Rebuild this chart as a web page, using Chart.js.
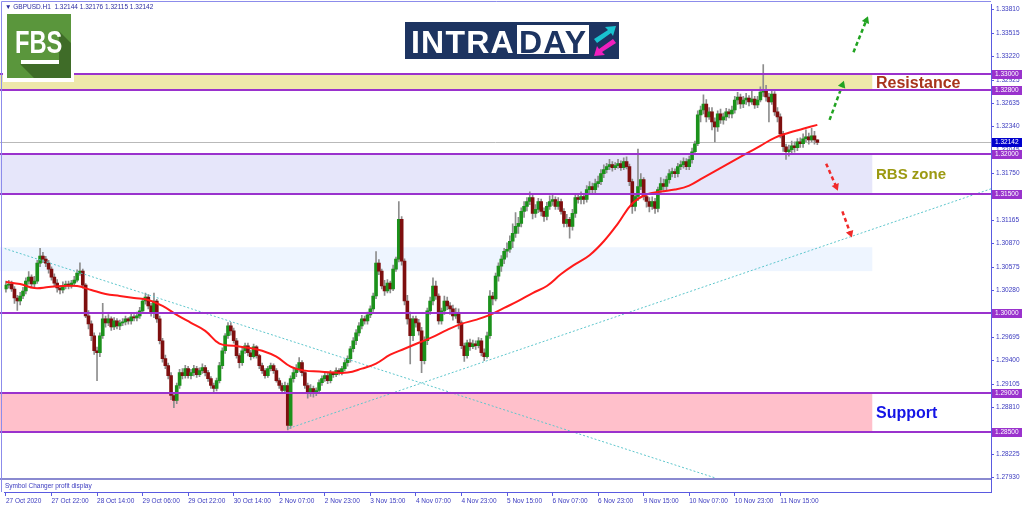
<!DOCTYPE html>
<html>
<head>
<meta charset="utf-8">
<script src="https://cdn.jsdelivr.net/npm/chart.js@4.4.0/dist/chart.umd.min.js"></script>
<style>
  html, body { margin: 0; padding: 0; background: #fff; overflow: hidden; }
  #wrap { position: relative; width: 1024px; height: 511px; }
  #wrap canvas { position: absolute; left: 0; top: 0; }
  .abs { position: absolute; }
  .hdr { left: 5px; top: 3px; font: 6.5px 'Liberation Sans', Arial, sans-serif; color: #2b2ba0; white-space: pre; }
  #fbsFrame { left: 3px; top: 12px; width: 71px; height: 70px; background: #fff; }
  #fbsBox { left: 7px; top: 14px; width: 64px; height: 64px; background: #5a963c; overflow: hidden; }
  #fbsShadow { left: 0; top: 0; width: 64px; height: 64px; background: #3f6c28;
    clip-path: polygon(52px 17px, 64px 29px, 64px 64px, 27px 64px, 13px 50px, 52px 50px); }
  #fbsText { left: 6px; top: 12px; width: 52px; font: bold 32px 'Liberation Sans Narrow', 'Liberation Sans', Arial, sans-serif;
    color: #fff; line-height: 32px; transform: scaleX(0.74); transform-origin: 7.7px 0; }
  #fbsBar { left: 14px; top: 46px; width: 38px; height: 4px; background: #fff; }
  #intra { left: 405px; top: 22px; width: 214px; height: 37px; background: #1d3461; }
  .intraTxt { font: bold 32px 'Liberation Sans', Arial, sans-serif; line-height: 32px; letter-spacing: 1.2px; }
  #dayBox { left: 112px; top: 3px; width: 72px; height: 29px; background: #fff; }
</style>
</head>
<body>
<div id="wrap">
  <canvas id="chart" width="1024" height="511"></canvas>
  <div class="abs hdr">&#9660; GBPUSD.H1  1.32144 1.32176 1.32115 1.32142</div>
  <div class="abs" id="fbsFrame"></div>
  <div class="abs" id="fbsBox">
    <div class="abs" id="fbsShadow"></div>
    <div class="abs" id="fbsText">FBS</div>
    <div class="abs" id="fbsBar"></div>
  </div>
  <div class="abs" id="intra">
    <div class="abs intraTxt" style="left:6px; top:4px; color:#fff;">INTRA</div>
    <div class="abs" id="dayBox"></div>
    <div class="abs intraTxt" style="left:114px; top:4px; color:#1d3461;">DAY</div>
    <svg class="abs" style="left:186px; top:2px;" width="28" height="34" viewBox="0 0 28 34">
      <polygon points="3,15 17,6 14,3 25,2 22,12 20,9 6,19" fill="#19c3d0"/>
      <polygon points="25,19 11,28 14,31 3,32 6,22 8,25 22,15" fill="#f01fbe"/>
    </svg>
  </div>
</div>
<script>
// GBPUSD H1 candles, one entry per bar
const opens = [
  1.3030, 1.3035, 1.30363, 1.3030, 1.30188, 1.3015, 1.30213, 1.30275, 1.3040, 1.3045,
  1.30363, 1.3040, 1.30625, 1.30713, 1.30675, 1.30625, 1.3055, 1.3045, 1.30375, 1.30313,
  1.30288, 1.30338, 1.30363, 1.30338, 1.30375, 1.30413, 1.3050, 1.30525, 1.3035, 1.29963,
  1.29863, 1.29713, 1.29525, 1.2950, 1.29713, 1.29925, 1.29875, 1.29925, 1.29825, 1.2990,
  1.29838, 1.29875, 1.29888, 1.29925, 1.2990, 1.2995, 1.29938, 1.29963, 1.30025, 1.3015,
  1.3020, 1.30088, 1.3000, 1.3015, 1.29925, 1.2965, 1.29425, 1.29338, 1.29213, 1.28963,
  1.2890, 1.29088, 1.2925, 1.29213, 1.2930, 1.29213, 1.2925, 1.2930, 1.29225, 1.29275,
  1.29313, 1.2925, 1.29175, 1.29088, 1.2905, 1.2915, 1.29338, 1.29525, 1.29713, 1.29838,
  1.29775, 1.2965, 1.29463, 1.29375, 1.29525, 1.29588, 1.2950, 1.2945, 1.29575, 1.29463,
  1.29338, 1.29275, 1.29213, 1.2930, 1.29338, 1.29275, 1.2915, 1.29088, 1.29025, 1.29088,
  1.28588, 1.29175, 1.2925, 1.2930, 1.29375, 1.2925, 1.29088, 1.2900, 1.2905, 1.2900,
  1.29025, 1.29125, 1.29175, 1.29213, 1.2915, 1.2925, 1.29225, 1.29275, 1.2925, 1.2930,
  1.29375, 1.29425, 1.2955, 1.2965, 1.2975, 1.29838, 1.29925, 1.2990, 1.29975, 1.3005,
  1.30213, 1.30625, 1.30525, 1.30338, 1.30275, 1.30375, 1.3030, 1.3055, 1.30675, 1.31175,
  1.3065, 1.3015, 1.29925, 1.29713, 1.29925, 1.29875, 1.29775, 1.2940, 1.2965, 1.30025,
  1.3015, 1.30338, 1.30213, 1.2990, 1.30025, 1.3015, 1.30088, 1.3005, 1.29963, 1.3000,
  1.29875, 1.29588, 1.29463, 1.29625, 1.29575, 1.29613, 1.29588, 1.2965, 1.2950, 1.2945,
  1.29713, 1.30213, 1.30175, 1.30463, 1.30588, 1.30675, 1.30775, 1.3080, 1.3090, 1.3100,
  1.31088, 1.31125, 1.31275, 1.31338, 1.3140, 1.3145, 1.3125, 1.3130, 1.3140, 1.31275,
  1.31213, 1.31338, 1.3140, 1.31425, 1.31338, 1.3140, 1.31275, 1.31125, 1.31175, 1.31088,
  1.3125, 1.3145, 1.31425, 1.31463, 1.31425, 1.3155, 1.31588, 1.3155, 1.31625, 1.3165,
  1.3175, 1.3180, 1.31838, 1.31863, 1.31825, 1.3185, 1.31875, 1.31825, 1.3190, 1.31838,
  1.3165, 1.31338, 1.31463, 1.31588, 1.31675, 1.31463, 1.3140, 1.31338, 1.3140, 1.31313,
  1.3155, 1.31625, 1.31588, 1.31675, 1.3175, 1.31775, 1.3175, 1.31838, 1.31863, 1.3190,
  1.31838, 1.31925, 1.32025, 1.32125, 1.32488, 1.3255, 1.32625, 1.32463, 1.32525, 1.3240,
  1.32338, 1.3250, 1.32425, 1.32463, 1.32525, 1.3250, 1.3255, 1.32675, 1.32713, 1.32625,
  1.32675, 1.3270, 1.3265, 1.32688, 1.32613, 1.32675, 1.32775, 1.3280, 1.32713, 1.3265,
  1.3275, 1.32525, 1.32463, 1.3225, 1.32088, 1.32025, 1.3205, 1.3210, 1.32075, 1.3215,
  1.32125, 1.32188, 1.32213, 1.32175, 1.32225, 1.32175
];
const highs = [
  1.3040, 1.3041, 1.3040, 1.3033, 1.3022, 1.3026, 1.3032, 1.3044, 1.3052, 1.3048,
  1.3046, 1.3066, 1.3081, 1.3076, 1.3071, 1.3066, 1.3058, 1.3049, 1.3042, 1.3034,
  1.3039, 1.3040, 1.3040, 1.3041, 1.3046, 1.3054, 1.3063, 1.3055, 1.3037, 1.3003,
  1.2990, 1.2975, 1.2957, 1.2975, 1.3012, 1.2996, 1.2998, 1.2995, 1.2994, 1.2993,
  1.2991, 1.2993, 1.2996, 1.2994, 1.2999, 1.2998, 1.3001, 1.3007, 1.3018, 1.3025,
  1.3023, 1.3012, 1.3025, 1.3017, 1.2996, 1.2968, 1.2947, 1.2937, 1.2925, 1.2900,
  1.2912, 1.2929, 1.2930, 1.2934, 1.2933, 1.2929, 1.2934, 1.2933, 1.2931, 1.2936,
  1.2934, 1.2928, 1.2920, 1.2912, 1.2918, 1.2938, 1.2956, 1.2974, 1.2988, 1.2988,
  1.2981, 1.2968, 1.2949, 1.2956, 1.2962, 1.2962, 1.2953, 1.2961, 1.2959, 1.2948,
  1.2937, 1.2930, 1.2933, 1.2937, 1.2936, 1.2930, 1.2918, 1.2912, 1.2913, 1.2912,
  1.2921, 1.2930, 1.2935, 1.2944, 1.2940, 1.2928, 1.2912, 1.2910, 1.2908, 1.2906,
  1.2916, 1.2921, 1.2925, 1.2925, 1.2928, 1.2926, 1.2931, 1.2930, 1.2933, 1.2941,
  1.2946, 1.2958, 1.2969, 1.2979, 1.2988, 1.2997, 1.2996, 1.3001, 1.3009, 1.3025,
  1.3077, 1.3067, 1.3055, 1.3041, 1.3042, 1.3040, 1.3060, 1.3070, 1.3140, 1.3121,
  1.3068, 1.3022, 1.3001, 1.2996, 1.2996, 1.2992, 1.2982, 1.2970, 1.3006, 1.3020,
  1.3044, 1.3040, 1.3024, 1.3006, 1.3021, 1.3020, 1.3013, 1.3010, 1.3006, 1.3005,
  1.2990, 1.2962, 1.2966, 1.2967, 1.2966, 1.2965, 1.2969, 1.2968, 1.2955, 1.2976,
  1.3028, 1.3026, 1.3050, 1.3063, 1.3072, 1.3081, 1.3088, 1.3097, 1.3112, 1.3126,
  1.3120, 1.3132, 1.3140, 1.3145, 1.3152, 1.3150, 1.3136, 1.3144, 1.3143, 1.3132,
  1.3139, 1.3147, 1.3150, 1.3146, 1.3145, 1.3143, 1.3131, 1.3124, 1.3120, 1.3130,
  1.3150, 1.3150, 1.3152, 1.3150, 1.3160, 1.3165, 1.3163, 1.3168, 1.3172, 1.3180,
  1.3186, 1.3188, 1.3193, 1.3190, 1.3189, 1.3193, 1.3191, 1.3195, 1.3196, 1.3187,
  1.3168, 1.3150, 1.3206, 1.3175, 1.3170, 1.3150, 1.3145, 1.3146, 1.3144, 1.3158,
  1.3170, 1.3168, 1.3172, 1.3180, 1.3182, 1.3181, 1.3188, 1.3191, 1.3195, 1.3194,
  1.3197, 1.3207, 1.3216, 1.3254, 1.3260, 1.3274, 1.3268, 1.3258, 1.3258, 1.3245,
  1.3254, 1.3256, 1.3251, 1.3257, 1.3256, 1.3260, 1.3272, 1.3277, 1.3275, 1.3272,
  1.3276, 1.3273, 1.3280, 1.3272, 1.3272, 1.3284, 1.3312, 1.3286, 1.3276, 1.3280,
  1.3278, 1.3258, 1.3250, 1.3228, 1.3212, 1.3211, 1.3216, 1.3215, 1.3219, 1.3220,
  1.3225, 1.3230, 1.3226, 1.3232, 1.3228, 1.32176
];
const lows = [
  1.3026, 1.3031, 1.3027, 1.3012, 1.3003, 1.3010, 1.3018, 1.3024, 1.3036, 1.3033,
  1.3033, 1.3037, 1.3058, 1.3063, 1.3058, 1.3050, 1.3041, 1.3033, 1.3026, 1.3024,
  1.3025, 1.3030, 1.3030, 1.3031, 1.3035, 1.3039, 1.3047, 1.3031, 1.2994, 1.2980,
  1.2965, 1.2948, 1.2915, 1.2945, 1.2968, 1.2982, 1.2984, 1.2978, 1.2979, 1.2980,
  1.2979, 1.2984, 1.2985, 1.2986, 1.2986, 1.2990, 1.2990, 1.2993, 1.2999, 1.3011,
  1.3005, 1.2996, 1.2994, 1.2988, 1.2961, 1.2938, 1.2930, 1.2917, 1.2891, 1.2881,
  1.2886, 1.2905, 1.2917, 1.2918, 1.2918, 1.2917, 1.2921, 1.2919, 1.2920, 1.2924,
  1.2921, 1.2914, 1.2905, 1.2901, 1.2902, 1.2912, 1.2930, 1.2949, 1.2968, 1.2972,
  1.2962, 1.2943, 1.2931, 1.2934, 1.2949, 1.2946, 1.2941, 1.2943, 1.2943, 1.2930,
  1.2924, 1.2918, 1.2919, 1.2927, 1.2924, 1.2913, 1.2905, 1.2899, 1.2900, 1.2853,
  1.2855, 1.2913, 1.2920, 1.2926, 1.2921, 1.2905, 1.2893, 1.2895, 1.2894, 1.2896,
  1.2899, 1.2909, 1.2914, 1.2911, 1.2912, 1.2919, 1.2920, 1.2922, 1.2922, 1.2927,
  1.2933, 1.2938, 1.2951, 1.2960, 1.2971, 1.2980, 1.2986, 1.2986, 1.2994, 1.3002,
  1.3018, 1.3048, 1.3030, 1.3022, 1.3025, 1.3025, 1.3028, 1.3052, 1.3064, 1.3060,
  1.3010, 1.2986, 1.2936, 1.2965, 1.2982, 1.2972, 1.2925, 1.2936, 1.2960, 1.2998,
  1.3010, 1.3017, 1.2986, 1.2986, 1.2998, 1.3004, 1.2998, 1.2991, 1.2993, 1.2980,
  1.2955, 1.2939, 1.2943, 1.2953, 1.2955, 1.2954, 1.2956, 1.2946, 1.2940, 1.2943,
  1.2968, 1.3010, 1.3015, 1.3040, 1.3052, 1.3062, 1.3070, 1.3076, 1.3082, 1.3095,
  1.3100, 1.3108, 1.3120, 1.3128, 1.3136, 1.3118, 1.3120, 1.3126, 1.3122, 1.3115,
  1.3117, 1.3130, 1.3135, 1.3130, 1.3130, 1.3124, 1.3108, 1.3108, 1.3094, 1.3104,
  1.3120, 1.3138, 1.3137, 1.3137, 1.3139, 1.3150, 1.3150, 1.3151, 1.3158, 1.3161,
  1.3170, 1.3176, 1.3180, 1.3178, 1.3180, 1.3182, 1.3179, 1.3180, 1.3181, 1.3160,
  1.3125, 1.3128, 1.3141, 1.3155, 1.3142, 1.3133, 1.3127, 1.3130, 1.3125, 1.3127,
  1.3150, 1.3154, 1.3154, 1.3163, 1.3171, 1.3170, 1.3171, 1.3180, 1.3182, 1.3180,
  1.3180, 1.3188, 1.3199, 1.3210, 1.3240, 1.3250, 1.3240, 1.3243, 1.3230, 1.3215,
  1.3228, 1.3238, 1.3237, 1.3242, 1.3245, 1.3245, 1.3251, 1.3262, 1.3257, 1.3258,
  1.3262, 1.3260, 1.3262, 1.3257, 1.3258, 1.3265, 1.3272, 1.3266, 1.3240, 1.3262,
  1.3248, 1.3240, 1.3220, 1.3203, 1.3193, 1.3197, 1.3200, 1.3202, 1.3204, 1.3208,
  1.3208, 1.3215, 1.3212, 1.3215, 1.3212, 1.32115
];
const closes = [
  1.3035, 1.30363, 1.3030, 1.30188, 1.3015, 1.30213, 1.30275, 1.3040, 1.3045, 1.30363,
  1.3040, 1.30625, 1.30713, 1.30675, 1.30625, 1.3055, 1.3045, 1.30375, 1.30313, 1.30288,
  1.30338, 1.30363, 1.30338, 1.30375, 1.30413, 1.3050, 1.30525, 1.3035, 1.29963, 1.29863,
  1.29713, 1.29525, 1.2950, 1.29713, 1.29925, 1.29875, 1.29925, 1.29825, 1.2990, 1.29838,
  1.29875, 1.29888, 1.29925, 1.2990, 1.2995, 1.29938, 1.29963, 1.30025, 1.3015, 1.3020,
  1.30088, 1.3000, 1.3015, 1.29925, 1.2965, 1.29425, 1.29338, 1.29213, 1.28963, 1.2890,
  1.29088, 1.2925, 1.29213, 1.2930, 1.29213, 1.2925, 1.2930, 1.29225, 1.29275, 1.29313,
  1.2925, 1.29175, 1.29088, 1.2905, 1.2915, 1.29338, 1.29525, 1.29713, 1.29838, 1.29775,
  1.2965, 1.29463, 1.29375, 1.29525, 1.29588, 1.2950, 1.2945, 1.29575, 1.29463, 1.29338,
  1.29275, 1.29213, 1.2930, 1.29338, 1.29275, 1.2915, 1.29088, 1.29025, 1.29088, 1.28588,
  1.29175, 1.2925, 1.2930, 1.29375, 1.2925, 1.29088, 1.2900, 1.2905, 1.2900, 1.29025,
  1.29125, 1.29175, 1.29213, 1.2915, 1.2925, 1.29225, 1.29275, 1.2925, 1.2930, 1.29375,
  1.29425, 1.2955, 1.2965, 1.2975, 1.29838, 1.29925, 1.2990, 1.29975, 1.3005, 1.30213,
  1.30625, 1.30525, 1.30338, 1.30275, 1.30375, 1.3030, 1.3055, 1.30675, 1.31175, 1.3065,
  1.3015, 1.29925, 1.29713, 1.29925, 1.29875, 1.29775, 1.2940, 1.2965, 1.30025, 1.3015,
  1.30338, 1.30213, 1.2990, 1.30025, 1.3015, 1.30088, 1.3005, 1.29963, 1.3000, 1.29875,
  1.29588, 1.29463, 1.29625, 1.29575, 1.29613, 1.29588, 1.2965, 1.2950, 1.2945, 1.29713,
  1.30213, 1.30175, 1.30463, 1.30588, 1.30675, 1.30775, 1.3080, 1.3090, 1.3100, 1.31088,
  1.31125, 1.31275, 1.31338, 1.3140, 1.3145, 1.3125, 1.3130, 1.3140, 1.31275, 1.31213,
  1.31338, 1.3140, 1.31425, 1.31338, 1.3140, 1.31275, 1.31125, 1.31175, 1.31088, 1.3125,
  1.3145, 1.31425, 1.31463, 1.31425, 1.3155, 1.31588, 1.3155, 1.31625, 1.3165, 1.3175,
  1.3180, 1.31838, 1.31863, 1.31825, 1.3185, 1.31875, 1.31825, 1.3190, 1.31838, 1.3165,
  1.31338, 1.31463, 1.31588, 1.31675, 1.31463, 1.3140, 1.31338, 1.3140, 1.31313, 1.3155,
  1.31625, 1.31588, 1.31675, 1.3175, 1.31775, 1.3175, 1.31838, 1.31863, 1.3190, 1.31838,
  1.31925, 1.32025, 1.32125, 1.32488, 1.3255, 1.32625, 1.32463, 1.32525, 1.3240, 1.32338,
  1.3250, 1.32425, 1.32463, 1.32525, 1.3250, 1.3255, 1.32675, 1.32713, 1.32625, 1.32675,
  1.3270, 1.3265, 1.32688, 1.32613, 1.32675, 1.32775, 1.3280, 1.32713, 1.3265, 1.3275,
  1.32525, 1.32463, 1.3225, 1.32088, 1.32025, 1.3205, 1.3210, 1.32075, 1.3215, 1.32125,
  1.32188, 1.32213, 1.32175, 1.32225, 1.32175, 1.32142
];

// moving average, sampled every 5 bars
const maBars = [0, 5, 10, 15, 20, 25, 30, 35, 40, 45, 50, 55, 60, 65, 70, 75, 80, 85, 90, 95,
  100, 105, 110, 115, 120, 125, 130, 135, 140, 145, 150, 155, 160, 165, 170, 175, 180, 185, 190, 195,
  200, 205, 210, 215, 220, 225, 230, 235, 240, 245, 250, 255, 260, 265, 270, 275, 280, 285];
const maValues = [1.30388, 1.30363, 1.30313, 1.30325, 1.30338, 1.30338, 1.30288, 1.30238, 1.30213, 1.30188,
  1.30163, 1.30088, 1.29975, 1.29875, 1.29775, 1.29613, 1.29588, 1.29563, 1.29525, 1.2945,
  1.29325, 1.29275, 1.29263, 1.2925, 1.2925, 1.2930, 1.29363, 1.29475, 1.2955, 1.29625,
  1.2970, 1.29788, 1.29863, 1.29913, 1.29975, 1.30063, 1.3015, 1.3025, 1.30338, 1.30488,
  1.30613, 1.30725, 1.3090, 1.31125, 1.31375, 1.31488, 1.31525, 1.3155, 1.3160, 1.3170,
  1.3180, 1.3190, 1.3200, 1.3210, 1.3220, 1.32263, 1.32313, 1.32363];

// axis ticks
const xTickBars = [0, 16, 32, 48, 64, 80, 96, 112, 128, 144, 160, 176, 192, 208, 224, 240, 256, 272];
const dateLabels = ['27 Oct 2020', '27 Oct 22:00', '28 Oct 14:00', '29 Oct 06:00', '29 Oct 22:00', '30 Oct 14:00',
  '2 Nov 07:00', '2 Nov 23:00', '3 Nov 15:00', '4 Nov 07:00', '4 Nov 23:00', '5 Nov 15:00',
  '6 Nov 07:00', '6 Nov 23:00', '9 Nov 15:00', '10 Nov 07:00', '10 Nov 23:00', '11 Nov 15:00'];
const yTicks = [1.33810, 1.33515, 1.33220, 1.32925, 1.32635, 1.32340, 1.32045, 1.31750, 1.31460, 1.31165,
  1.30870, 1.30575, 1.30280, 1.29985, 1.29695, 1.29400, 1.29105, 1.28810, 1.28515, 1.28225, 1.27930];

// horizontal levels and zones
const levels = [1.33000, 1.32800, 1.32000, 1.31500, 1.30000, 1.29000, 1.28500];
const lastPrice = 1.32142;
const zoneTops = [1.3300, 1.3200, 1.30825, 1.2900];
const zoneBottoms = [1.3280, 1.3150, 1.30525, 1.2850];
const zoneEndBar = 304.3;
const zoneLabels = ['Resistance', 'RBS zone', '', 'Support'];
const labelBar = 305.6;

// trend lines and forecast arrows (bar index, price)
const trendStartBars = [-0.5, 99.4];
const trendStartPrices = [1.3081, 1.2855];
const trendEndBars = [249.3, 346];
const trendEndPrices = [1.27925, 1.31559];
const arrowFromBars = [289.3, 297.7, 288.1, 293.8];
const arrowFromPrices = [1.32425, 1.33275, 1.31875, 1.31275];
const arrowToBars = [293.8, 302.2, 291.6, 296.6];
const arrowToPrices = [1.32863, 1.33675, 1.31588, 1.3100];

const FONT = "'Liberation Sans', Arial, sans-serif";
const AXIS_COLOR = '#5a5ae0';
const TEXT_COLOR = '#3a3abf';
const LEVEL_COLOR = '#9a32cd';
const ZONE_COLORS = ['#eee8aa', '#e6e6fa', '#eef5ff', '#ffc0cb'];
const LABEL_COLORS = ['#a8351c', '#9c9a12', '', '#1414e6'];
const LABEL_FONTS = ['bold 16px ' + FONT, 'bold 15px ' + FONT, '', 'bold 16px ' + FONT];
const ARROW_COLORS = ['#21a321', '#21a321', '#f02a2a', '#f02a2a'];
const ARROW_ROT = [20, 22, 157, 160];
const MAIN_BOTTOM = 1.2793;

// keep the plot area exactly where the layout padding puts it
const noPadding = s => {
  s.paddingLeft = s.paddingRight = s.paddingTop = s.paddingBottom = 0;
  s.getPadding = () => ({ left: 0, top: 0, right: 0, bottom: 0 });
};

const overlay = {
  id: 'overlay',
  beforeDatasetsDraw(chart) {
    const { ctx, chartArea: a, scales: { x, y } } = chart;
    ctx.save();
    const xEnd = x.getPixelForValue(zoneEndBar);
    zoneTops.forEach((top, i) => {
      const t = y.getPixelForValue(top), b = y.getPixelForValue(zoneBottoms[i]);
      ctx.fillStyle = ZONE_COLORS[i];
      ctx.fillRect(0, t, xEnd, b - t);
    });
    const py = Math.round(y.getPixelForValue(lastPrice)) + 0.5;
    ctx.strokeStyle = '#b9b9b9';
    ctx.lineWidth = 1;
    ctx.beginPath(); ctx.moveTo(0, py); ctx.lineTo(a.right, py); ctx.stroke();
    ctx.restore();
  },
  afterDatasetsDraw(chart) {
    const { ctx, chartArea: a, scales: { x, y } } = chart;
    ctx.save();
    ctx.strokeStyle = LEVEL_COLOR;
    ctx.lineWidth = 2;
    levels.forEach(v => {
      const py = Math.round(y.getPixelForValue(v));
      ctx.beginPath(); ctx.moveTo(0, py); ctx.lineTo(a.right, py); ctx.stroke();
    });
    ctx.textBaseline = 'middle';
    ctx.textAlign = 'left';
    const lx = x.getPixelForValue(labelBar);
    zoneLabels.forEach((txt, i) => {
      if (!txt) return;
      ctx.fillStyle = LABEL_COLORS[i];
      ctx.font = LABEL_FONTS[i];
      ctx.fillText(txt, lx, y.getPixelForValue((zoneTops[i] + zoneBottoms[i]) / 2) + 1);
    });
    // indicator sub-window
    const mb = Math.round(y.getPixelForValue(MAIN_BOTTOM));
    ctx.fillStyle = '#fff';
    ctx.fillRect(0, mb, a.right, a.bottom - mb);
    ctx.fillStyle = '#8a8ad0';
    ctx.fillRect(0, mb, a.right, 2);
    ctx.fillStyle = TEXT_COLOR;
    ctx.font = '6.5px ' + FONT;
    ctx.fillText('Symbol Changer profit display', 5, mb + 8);
    ctx.restore();
  },
  afterDraw(chart) {
    const { ctx, chartArea: a, scales: { y } } = chart;
    ctx.save();
    // window frame
    ctx.strokeStyle = '#8c8ceb';
    ctx.lineWidth = 1;
    ctx.beginPath();
    ctx.moveTo(1.5, a.bottom); ctx.lineTo(1.5, 1.5); ctx.lineTo(a.right, 1.5);
    ctx.stroke();
    // price boxes on the axis
    ctx.font = '6.5px ' + FONT;
    ctx.textBaseline = 'middle';
    ctx.textAlign = 'left';
    const box = (v, color) => {
      const py = Math.round(y.getPixelForValue(v));
      ctx.fillStyle = color;
      ctx.fillRect(a.right + 1, py - 4, 30, 9);
      ctx.fillStyle = '#fff';
      ctx.fillText(v.toFixed(5), a.right + 4, py + 0.5);
    };
    levels.forEach(v => box(v, LEVEL_COLOR));
    box(lastPrice, '#0000cd');
    ctx.restore();
  }
};

const candleIdx = closes.map((_, i) => i);

new Chart(document.getElementById('chart'), {
  type: 'bar',
  data: {
    datasets: [
      {
        type: 'bar',
        data: candleIdx.map(i => ({ x: i, y: [lows[i], highs[i]] })),
        backgroundColor: '#8d8d8d',
        barThickness: 1,
        grouped: false,
        order: 6
      },
      {
        type: 'bar',
        data: candleIdx.map(i => ({ x: i, y: [opens[i], closes[i]] })),
        backgroundColor: candleIdx.map(i => closes[i] >= opens[i] ? '#1b911b' : '#7e0f0f'),
        barThickness: 3,
        minBarLength: 1,
        grouped: false,
        order: 5
      },
      {
        type: 'line',
        data: maBars.map((b, k) => ({ x: b, y: maValues[k] })),
        borderColor: '#ff1a1a',
        borderWidth: 2,
        pointRadius: 0,
        tension: 0.4,
        order: 3
      },
      ...trendStartBars.map((b, k) => ({
        type: 'line',
        data: [{ x: b, y: trendStartPrices[k] }, { x: trendEndBars[k], y: trendEndPrices[k] }],
        borderColor: '#5ec6cc',
        borderWidth: 1,
        borderDash: [2, 2],
        pointRadius: 0,
        order: 4
      })),
      ...arrowFromBars.map((b, k) => ({
        type: 'line',
        data: [{ x: b, y: arrowFromPrices[k] }, { x: arrowToBars[k], y: arrowToPrices[k] }],
        borderColor: ARROW_COLORS[k],
        borderWidth: 2.5,
        borderDash: [4, 3],
        pointRadius: [0, 4.5],
        pointStyle: 'triangle',
        pointRotation: [0, ARROW_ROT[k]],
        pointBackgroundColor: ARROW_COLORS[k],
        pointBorderWidth: 0,
        order: 1
      }))
    ]
  },
  options: {
    responsive: false,
    animation: false,
    devicePixelRatio: 1,
    layout: { padding: { left: 2, top: 2, right: 0, bottom: 0 } },
    plugins: { legend: { display: false }, tooltip: { enabled: false } },
    scales: {
      x: {
        type: 'linear',
        min: -0.5, max: 346,
        offset: false,
        afterBuildTicks: s => { s.ticks = xTickBars.map(v => ({ value: v })); },
        afterFit: s => { s.height = 19; noPadding(s); },
        ticks: {
          autoSkip: false, maxRotation: 0, align: 'start', padding: 1,
          color: TEXT_COLOR, font: { family: FONT, size: 6.5 },
          callback: (v, i) => dateLabels[i]
        },
        grid: { drawOnChartArea: false, tickLength: 4, color: AXIS_COLOR, offset: false },
        border: { color: AXIS_COLOR }
      },
      y: {
        position: 'right',
        min: 1.2775, max: 1.33875,
        afterBuildTicks: s => { s.ticks = yTicks.map(v => ({ value: v })); },
        afterFit: s => { s.width = 33; noPadding(s); },
        ticks: {
          padding: 2, color: TEXT_COLOR, font: { family: FONT, size: 6.5 },
          callback: v => v.toFixed(5)
        },
        grid: { drawOnChartArea: false, tickLength: 3, color: AXIS_COLOR },
        border: { color: AXIS_COLOR }
      }
    }
  },
  plugins: [overlay]
});
</script>
</body>
</html>
